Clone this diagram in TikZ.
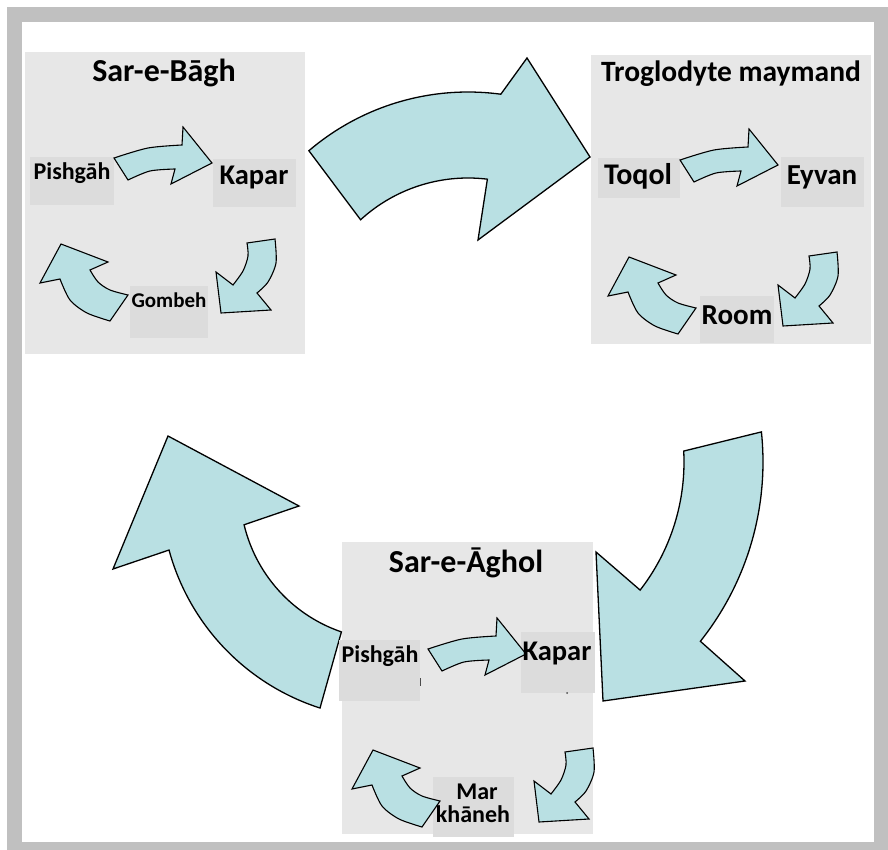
\documentclass[tikz,border=0pt]{standalone}
\usepackage{fontspec}
\setmainfont{Carlito}
\definecolor{framegray}{RGB}{192,192,192}
\definecolor{panelgray}{RGB}{231,231,231}
\definecolor{boxgray}{RGB}{220,220,220}
\definecolor{arrowfill}{RGB}{185,224,227}
\newcommand\arrT[1]{\begin{scope}[shift={#1}]
  \draw[blockarrow] plot[smooth] coordinates {(114,158) (148,148) (182,145)} -- (183,127) -- (212,163) -- (171,184)
    -- plot[smooth] coordinates {(175,169) (150,171) (128,180)} -- cycle;
\end{scope}}
\newcommand\arrR[1]{\begin{scope}[shift={#1}]
  \draw[blockarrow] (247,243) -- plot[smooth] coordinates {(275,239) (276,263) (268,282) (257,293)} -- (271,310) -- (221,313) -- (216,272)
    -- plot[smooth] coordinates {(233,285) (243,271) (248,256) (247,243)} -- cycle;
\end{scope}}
\newcommand\arrL[1]{\begin{scope}[shift={#1}]
  \draw[blockarrow] (110,321) -- plot[smooth] coordinates {(128,295) (110,290) (98,282) (90,270)} -- (108,262) -- (61,244) -- (40,283)
    -- plot[smooth] coordinates {(60,279) (70,300) (87,313) (110,321)} -- cycle;
\end{scope}}
\begin{document}
\begin{tikzpicture}[x=1pt,y=-1pt,
  panel/.style={fill=panelgray, draw=none, inner sep=0pt, anchor=north west},
  lbox/.style={fill=boxgray, draw=none, inner sep=0pt, anchor=north west},
  blockarrow/.style={fill=arrowfill, draw=black, line width=1.1pt, line join=miter},
  bigarrow/.style={blockarrow, line width=1.3pt},
  titletext/.style={font=\bfseries\fontsize{32}{38}\selectfont, anchor=base, inner sep=0pt},
  bigtext/.style={font=\bfseries\fontsize{28.5}{34}\selectfont, anchor=base, inner sep=0pt},
  smalltext/.style={font=\bfseries\fontsize{24}{28}\selectfont, anchor=base, inner sep=0pt},
]
\useasboundingbox (0,0) rectangle (888,850);
% frame
\fill[framegray] (7,7) rectangle (888,850);
\fill[white] (22,22) rectangle (874,842);
% panels
\node[panel, minimum width=280pt, minimum height=302pt] (p1) at (25,52) {};
\node[panel, minimum width=280pt, minimum height=289pt] (p2) at (591,55) {};
\node[panel, minimum width=251pt, minimum height=292pt] (p3) at (342,542) {};
% big arrows (arcs around their own centres)
\draw[bigarrow] plot[domain=-130.5:-82.3, samples=40] ({468+245*cos(\x)},{337+245*sin(\x)})
  -- (527,58) -- (590,157) -- (478,240)
  -- plot[domain=-83:-132.5, samples=40] ({468+159*cos(\x)},{337+159*sin(\x)}) -- cycle;
\draw[bigarrow] plot[domain=-6:38.5, samples=40] ({475+288*cos(\x)},{462+288*sin(\x)})
  -- (745,681) -- (603,701) -- (596,552)
  -- plot[domain=37.8:-3, samples=40] ({475+209*cos(\x)},{462+209*sin(\x)}) -- cycle;
\draw[bigarrow] plot[domain=108.9:166.6, samples=40] ({390+150*cos(\x)},{490+150*sin(\x)})
  -- (299,506) -- (168,436) -- (113,569)
  -- plot[domain=164.8:107.8, samples=40] ({390+229*cos(\x)},{490+229*sin(\x)}) -- cycle;
% label boxes
\node[lbox, minimum width=84pt, minimum height=48pt] (b1a) at (30,157) {};
\node[lbox, minimum width=83pt, minimum height=48pt] (b1b) at (213,159) {};
\node[lbox, minimum width=78pt, minimum height=52pt] (b1c) at (130,286) {};
\node[lbox, minimum width=82pt, minimum height=40pt] (b2a) at (598,158) {};
\node[lbox, minimum width=83pt, minimum height=50pt] (b2b) at (781,157) {};
\node[lbox, minimum width=74pt, minimum height=47pt] (b2c) at (700,296) {};
\node[lbox, minimum width=81pt, minimum height=61pt] (b3a) at (339,640) {};
\node[lbox, minimum width=74pt, minimum height=61pt] (b3b) at (521,632) {};
\node[lbox, minimum width=81pt, minimum height=60pt] (b3c) at (433,777) {};
% small arrows
\arrT{(0,0)} \arrR{(0,0)} \arrL{(0,0)}
\arrT{(566,2)} \arrR{(562,13)} \arrL{(568,13)}
\arrT{(314,491)} \arrR{(318,509)} \arrL{(312,506)}
% texts
\node[titletext] (h1) at (164,82) {Sar-e-Bāgh};
\node[titletext, font=\bfseries\fontsize{29.5}{35}\selectfont] (h2) at (731,82) {Troglodyte maymand};
\node[titletext] (h3) at (466,572) {Sar-e-Āghol};
\node[smalltext] (t1a) at (72,180) {Pishgāh};
\node[bigtext] (t1b) at (254,185) {Kapar};
\node[smalltext, font=\bfseries\fontsize{21}{24}\selectfont] (t1c) at (169,307) {Gombeh};
\node[bigtext, font=\bfseries\fontsize{30}{34}\selectfont] (t2a) at (638,185) {Toqol};
\node[bigtext, font=\bfseries\fontsize{29}{34}\selectfont] (t2b) at (822,185) {Eyvan};
\node[bigtext, font=\bfseries\fontsize{29}{34}\selectfont] (t2c) at (737,324) {Room};
\node[smalltext] (t3a) at (380,662) {Pishgāh};
\node[bigtext] (t3b) at (557,660) {Kapar};
\node[smalltext] (t3c) at (477,799) {Mar};
\node[smalltext] (t3d) at (473,822) {khāneh};
% small clipped marks
\draw[black!70, line width=1pt] (420,678) -- (420,686);
\fill[black!70] (567,693) circle (1pt);
\end{tikzpicture}
\end{document}
